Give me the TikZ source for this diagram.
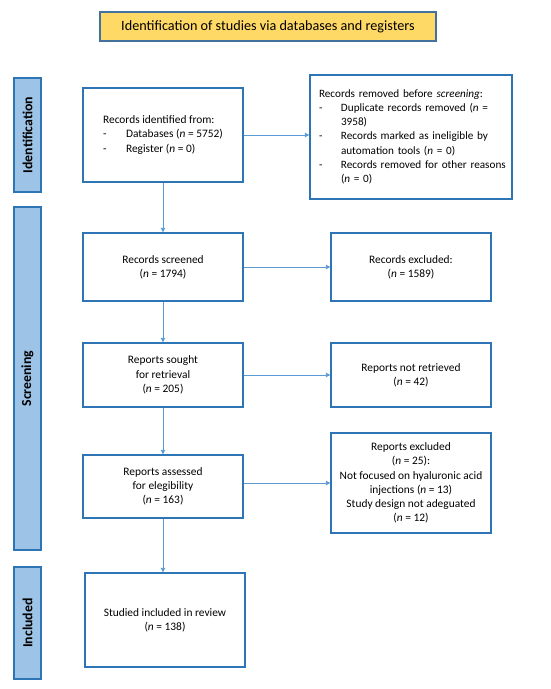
\documentclass[tikz,border=0pt]{standalone}
\usepackage{fontspec}
\setmainfont{Carlito}
\usetikzlibrary{arrows.meta}
\definecolor{boxblue}{HTML}{2E75B6}
\definecolor{arrblue}{HTML}{5B9BD5}
\definecolor{barfill}{HTML}{9DC3E6}
\definecolor{barline}{HTML}{2E75B6}
\definecolor{titlefill}{HTML}{FFD966}
\definecolor{titleline}{HTML}{41719C}
\tikzset{
  flowbox/.style={draw=boxblue, line width=1.4pt, fill=white, align=center,
    font=\fontsize{11.4}{14.2}\selectfont, inner sep=4pt},
  sidebar/.style={draw=barline, line width=1.4pt, fill=barfill, rotate=90,
    font=\fontsize{13.8}{16}\selectfont\bfseries, inner sep=0pt},
  flowarrow/.style={draw=arrblue, line width=0.9pt, -{Triangle[length=4.5pt,width=4.5pt]}},
}
\newcommand{\nn}{\textit{n}}
\begin{document}
\begin{tikzpicture}[x=1pt,y=-1pt]
\useasboundingbox (0,0) rectangle (550,689);
% title
\node[draw=titleline, line width=1.2pt, fill=titlefill, minimum width=336pt, minimum height=29pt,
  font=\fontsize{14.2}{16}\selectfont, inner sep=0pt] (title) at (268,26.5)
  {Identification of studies via databases and registers};
% side bars
\node[sidebar, minimum width=114pt, minimum height=27pt] (idbar) at (27.5,135) {Identification};
\node[sidebar, minimum width=343pt, minimum height=27pt] (scrbar) at (27.5,378.5) {Screening};
\node[sidebar, minimum width=112pt, minimum height=27pt] (incbar) at (27.5,623) {Included};
% boxes
\node[flowbox, minimum width=160pt, minimum height=94pt, align=left, inner xsep=20pt] (ident) at (163,135)
  {\begin{tabular}{@{}p{23pt}@{}l@{}}
   \multicolumn{2}{@{}l@{}}{Records identified from:}\\
   -&Databases (\nn{} = 5752)\\
   -&Register (\nn{} = 0)
   \end{tabular}};
\node[flowbox, font=\fontsize{11.2}{14.2}\selectfont, minimum width=202pt, minimum height=124pt, align=left, text width=184pt, inner xsep=9pt] (removed) at (411,137)
  {\begin{tabular}{@{}p{22pt}@{}l@{}}
   \multicolumn{2}{@{}l@{}}{Records removed before \textit{screening}:}\\
   -&Duplicate records removed (\nn{} =\\
   &3958)\\
   -&Records marked as ineligible by\\
   &automation tools (\nn{} = 0)\\
   -&Records removed for other reasons\\
   &(\nn{} = 0)
   \end{tabular}\\[3pt]};
\node[flowbox, minimum width=160pt, minimum height=68pt] (screened) at (163,267)
  {Records screened\\(\nn{} = 1794)};
\node[flowbox, minimum width=160pt, minimum height=68pt] (excluded) at (411,267)
  {Records excluded:\\(\nn{} = 1589)};
\node[flowbox, minimum width=160pt, minimum height=64pt] (sought) at (163,375)
  {Reports sought\\for retrieval\\(\nn{} = 205)};
\node[flowbox, minimum width=160pt, minimum height=64pt] (notretr) at (411,375)
  {Reports not retrieved\\(\nn{} = 42)};
\node[flowbox, minimum width=160pt, minimum height=63pt] (assessed) at (163,486.5)
  {Reports assessed\\for elegibility\\(\nn{} = 163)};
\node[flowbox, minimum width=160pt, minimum height=100pt] (repexcl) at (411,483)
  {Reports excluded\\(\nn{} = 25):\\Not focused on hyaluronic acid\\injections (\nn{} = 13)\\Study design not adeguated\\(\nn{} = 12)};
\node[flowbox, minimum width=160pt, minimum height=94pt] (included) at (165,620)
  {Studied included in review\\(\nn{} = 138)};
% arrows
\draw[flowarrow] (ident.east) -- (removed.west |- ident.east);
\draw[flowarrow] (ident.south) -- (screened.north);
\draw[flowarrow] (screened.east) -- (excluded.west);
\draw[flowarrow] (screened.south) -- (sought.north);
\draw[flowarrow] (sought.east) -- (notretr.west);
\draw[flowarrow] (sought.south) -- (assessed.north);
\draw[flowarrow] (assessed.east |- repexcl.west) -- (repexcl.west);
\draw[flowarrow] (assessed.south) -- (assessed.south |- included.north);
\end{tikzpicture}
\end{document}
